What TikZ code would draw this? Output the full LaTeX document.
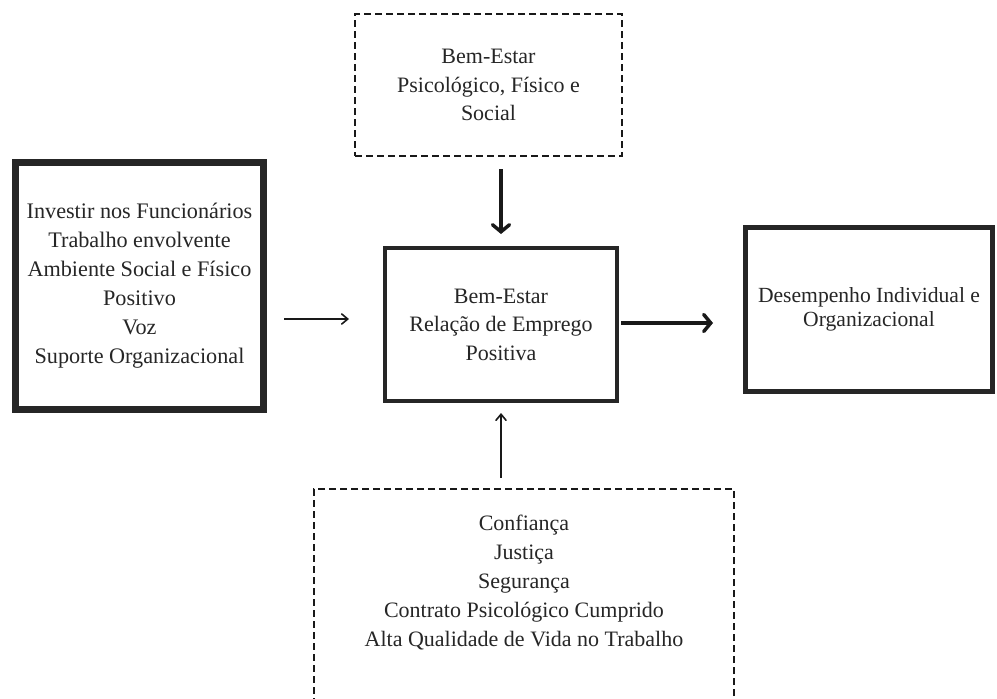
\documentclass[tikz,border=0pt]{standalone}
\usepackage{fontspec}
\setmainfont{Liberation Serif}
\usetikzlibrary{arrows.meta}
\begin{document}
\begin{tikzpicture}[x=1pt,y=-1pt,
  txt/.style={align=center, inner sep=0pt, text=black!85},
  solidbox/.style={draw=black!85, rectangle, txt},
  dashbox/.style={draw=black!90, rectangle, line width=2.4pt, dash pattern=on 7pt off 4pt, txt},
  thinarrow/.style={draw=black!90, line width=1.6pt, -{Straight Barb[length=6pt,width=10pt,line cap=round]}},
  thickarrow/.style={draw=black!90, line width=4pt, -{Straight Barb[length=7pt,width=17pt,line cap=round,line width=3.5pt]}}
]
\useasboundingbox (0,0) rectangle (997,699);
\clip (0,0) rectangle (997,699);
\fill[white] (0,0) rectangle (997,699);

\node[solidbox, line width=7pt, minimum width=248pt, minimum height=247pt,
  font=\fontsize{22.2}{29}\selectfont] (lb) at (139.5,286)
  {Investir nos Funcionários\\Trabalho envolvente\\Ambiente Social e Físico\\Positivo\\Voz\\Suporte Organizacional};

\node[dashbox, minimum width=267pt, minimum height=142pt,
  font=\fontsize{22}{28.5}\selectfont] (tb) at (488.5,85)
  {Bem-Estar\\Psicológico, Físico e\\Social};

\node[solidbox, line width=4pt, minimum width=232pt, minimum height=153pt,
  font=\fontsize{22}{28.5}\selectfont] (cb) at (501,324.5)
  {Bem-Estar\\Relação de Emprego\\Positiva};

\node[solidbox, line width=5pt, minimum width=247pt, minimum height=164pt,
  font=\fontsize{21.6}{24}\selectfont] (rb) at (869,309.5)
  {Desempenho Individual e\\Organizacional};

\node[dashbox, minimum width=420pt, minimum height=260pt] (bb) at (524,619) {};
\node[txt, font=\fontsize{22}{29}\selectfont] (bt) at (524,583)
  {Confiança\\Justiça\\Segurança\\Contrato Psicológico Cumprido\\Alta Qualidade de Vida no Trabalho};

\coordinate (rowL) at (0,319);
\coordinate (rowR) at (0,323);

\draw[thickarrow, shorten <=12pt, shorten >=12pt] (tb.south -| cb.north) -- (cb.north);
\draw[thinarrow, shorten <=10pt, shorten >=10pt] (bb.north -| cb.south) -- (cb.south);
\draw[thinarrow, shorten <=17pt, shorten >=34pt] (lb.east |- rowL) -- (cb.west |- rowL);
\draw[thickarrow, shorten <=2pt, shorten >=30pt] (cb.east |- rowR) -- (rb.west |- rowR);
\end{tikzpicture}
\end{document}
